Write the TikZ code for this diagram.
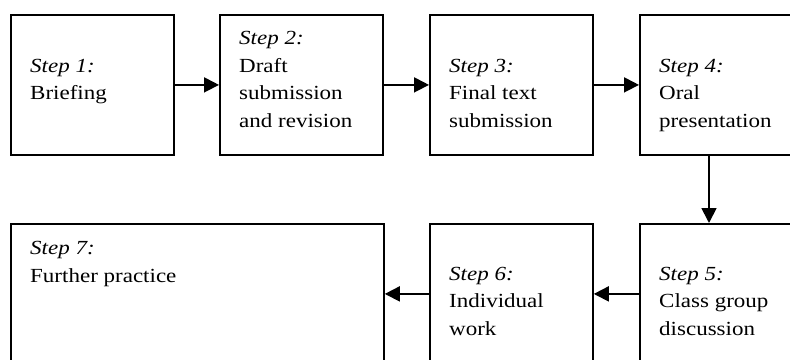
\documentclass[tikz,border=0pt]{standalone}
\usepackage{fontspec}
\setmainfont[FakeStretch=1.15]{Liberation Serif}
\usetikzlibrary{arrows.meta}
\tikzset{
  stepbox/.style={draw, line width=1.8pt, rectangle, minimum width=163pt, minimum height=140pt, anchor=north west, inner sep=0pt},
  widebox/.style={stepbox, minimum width=373pt},
  steptext/.style={anchor=base west, align=left, inner sep=0pt, font=\fontsize{20}{27.4}\selectfont},
  arr/.style={line width=1.8pt, -{Triangle[length=15pt, width=15pt]}}
}
\begin{document}
\begin{tikzpicture}[x=1pt, y=-1pt]
\clip (0,0) rectangle (790,359);
\fill[white] (0,0) rectangle (790,359);
% boxes
\node[stepbox] (b1) at (10,14) {};
\node[stepbox] (b2) at (219,14) {};
\node[stepbox] (b3) at (429,14) {};
\node[stepbox] (b4) at (639,14) {};
\node[stepbox] (b5) at (639,223) {};
\node[stepbox] (b6) at (429,223) {};
\node[widebox] (b7) at (10,223) {};
% texts (anchor = baseline of last line)
\node[steptext] (t1) at (30,99.5) {\textit{Step 1:}\\Briefing};
\node[steptext] (t2) at (239,127) {\textit{Step 2:}\\Draft\\submission\\and revision};
\node[steptext] (t3) at (449,127) {\textit{Step 3:}\\Final text\\submission};
\node[steptext] (t4) at (659,127) {\textit{Step 4:}\\Oral\\presentation};
\node[steptext] (t5) at (659,335) {\textit{Step 5:}\\Class group\\discussion};
\node[steptext] (t6) at (449,335) {\textit{Step 6:}\\Individual\\work};
\node[steptext] (t7) at (30,282) {\textit{Step 7:}\\Further practice};
% connectors
\coordinate (v) at (709,0);
\draw[arr] (b1.east) -- (b2.west);
\draw[arr] (b2.east) -- (b3.west);
\draw[arr] (b3.east) -- (b4.west);
\draw[arr] (v |- b4.south) -- (v |- b5.north);
\draw[arr] (b5.west) -- (b6.east);
\draw[arr] (b6.west) -- (b7.east);
\end{tikzpicture}
\end{document}
